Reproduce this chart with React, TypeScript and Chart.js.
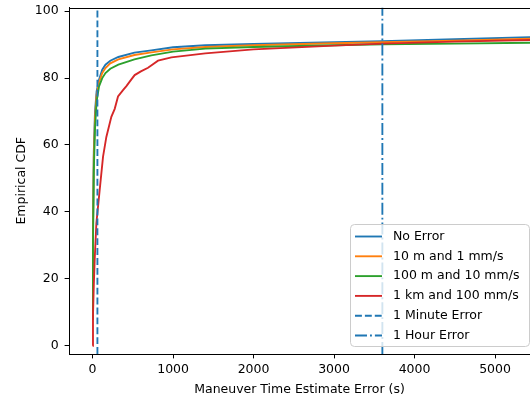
import React, { useEffect, useRef } from "react";
import { Chart, registerables } from "chart.js";

Chart.register(...registerables);

// ---- data ----
const cdfX = [0, 5, 15, 30, 50, 80, 120, 160, 220, 320, 520, 730, 1000, 1400, 2000, 3000, 3600, 4500, 5500, 6000];
const noErrorY = [8, 35, 58, 70, 76, 79.5, 82.5, 84, 85.2, 86.3, 87.6, 88.3, 89.2, 89.8, 90.2, 90.7, 91.0, 91.6, 92.3, 92.6];
const tenMY = [8, 33, 56, 68, 75, 78.7, 81.5, 83, 84.4, 85.6, 86.9, 87.7, 88.6, 89.3, 89.8, 90.4, 90.7, 91.2, 91.8, 92.1];
const hundredMY = [8, 30, 52, 65, 73, 77.5, 80, 81.5, 82.8, 84, 85.6, 86.8, 87.9, 88.8, 89.3, 89.8, 90.1, 90.3, 90.6, 90.7];

const oneKmX = [0, 5, 15, 26, 47, 88, 130, 171, 233, 275, 316, 378, 420, 482, 523, 600, 689, 813, 979, 1400, 2000, 3000, 3600, 4500, 5500, 6000];
const oneKmY = [0, 9, 18, 25.6, 36.6, 46.5, 56.5, 62.4, 68.4, 70.8, 74.5, 76.4, 77.6, 79.6, 80.9, 82, 83.1, 85.2, 86.2, 87.4, 88.6, 89.7, 90.3, 90.9, 91.4, 91.6];

const seriesLabels = ["No Error", "10 m and 1 mm/s", "100 m and 10 mm/s", "1 km and 100 mm/s", "1 Minute Error", "1 Hour Error"];
const minuteErrorX = 60;
const hourErrorX = 3600;

const xAxisMin = -293;
const xAxisMax = 5434;
const yAxisMin = -2.48;
const yAxisMax = 101.1;
const xTickValues = [0, 1000, 2000, 3000, 4000, 5000];
const yTickValues = [0, 20, 40, 60, 80, 100];

const xTitle = "Maneuver Time Estimate Error (s)";
const yTitle = "Empirical CDF";

// ---- styles ----
const FONT = "'DejaVu Sans', sans-serif";
const FS = 12.5;
const LW = 1.875;
const BLUE = "#1f77b4";
const ORANGE = "#ff7f0e";
const GREEN = "#2ca02c";
const RED = "#d62728";
const DASHED = [6.9, 3];
const DASHDOT = [12, 3, 1.9, 3];

const pts = (xs: number[], ys: number[]) => xs.map((x, i) => ({ x, y: ys[i] }));

const frameAndLegend = {
  id: "frameAndLegend",
  afterDraw(chart: any) {
    const { ctx, chartArea } = chart;
    ctx.save();
    // top spine
    ctx.strokeStyle = "#000";
    ctx.lineWidth = 1;
    ctx.beginPath();
    const ty = Math.round(chartArea.top) + 0.5;
    ctx.moveTo(chartArea.left, ty);
    ctx.lineTo(chart.width, ty);
    ctx.stroke();

    // legend
    const bx = 350.5, by = 224.5, bw = 179, bh = 122, r = 4;
    ctx.beginPath();
    ctx.moveTo(bx + r, by);
    ctx.lineTo(bx + bw - r, by);
    ctx.arcTo(bx + bw, by, bx + bw, by + r, r);
    ctx.lineTo(bx + bw, by + bh - r);
    ctx.arcTo(bx + bw, by + bh, bx + bw - r, by + bh, r);
    ctx.lineTo(bx + r, by + bh);
    ctx.arcTo(bx, by + bh, bx, by + bh - r, r);
    ctx.lineTo(bx, by + r);
    ctx.arcTo(bx, by, bx + r, by, r);
    ctx.closePath();
    ctx.fillStyle = "rgba(255,255,255,0.8)";
    ctx.fill();
    ctx.strokeStyle = "#cccccc";
    ctx.lineWidth = 1;
    ctx.stroke();

    const ds = chart.data.datasets;
    ctx.font = `${FS}px ${FONT}`;
    ctx.textBaseline = "middle";
    ctx.textAlign = "left";
    for (let i = 0; i < ds.length; i++) {
      const y = 236.5 + i * 19.8;
      ctx.beginPath();
      ctx.setLineDash(ds[i].borderDash || []);
      ctx.strokeStyle = ds[i].borderColor;
      ctx.lineWidth = LW;
      ctx.moveTo(355, y);
      ctx.lineTo(382, y);
      ctx.stroke();
      ctx.setLineDash([]);
      ctx.fillStyle = "#000";
      ctx.fillText(ds[i].label, 393, y);
    }
    ctx.restore();
  },
};

export default function App() {
  const ref = useRef<HTMLCanvasElement>(null);
  useEffect(() => {
    if (!ref.current) return;
    const common = { pointRadius: 0, borderWidth: LW, tension: 0, fill: false };
    const chart = new Chart(ref.current, {
      type: "line",
      data: {
        datasets: [
          { ...common, label: seriesLabels[0], data: pts(cdfX, noErrorY), borderColor: BLUE, order: 6 },
          { ...common, label: seriesLabels[1], data: pts(cdfX, tenMY), borderColor: ORANGE, order: 5 },
          { ...common, label: seriesLabels[2], data: pts(cdfX, hundredMY), borderColor: GREEN, order: 4 },
          { ...common, label: seriesLabels[3], data: pts(oneKmX, oneKmY), borderColor: RED, order: 3 },
          { ...common, label: seriesLabels[4], data: [{ x: minuteErrorX, y: yAxisMin }, { x: minuteErrorX, y: yAxisMax }], borderColor: BLUE, borderDash: DASHED, order: 2 },
          { ...common, label: seriesLabels[5], data: [{ x: hourErrorX, y: yAxisMin }, { x: hourErrorX, y: yAxisMax }], borderColor: BLUE, borderDash: DASHDOT, order: 1 },
        ] as any,
      },
      options: {
        animation: false,
        responsive: false,
        maintainAspectRatio: false,
        parsing: false as any,
        layout: { padding: { top: 7.5, left: 0, right: 0, bottom: 0 } },
        plugins: { legend: { display: false }, tooltip: { enabled: false } },
        scales: {
          x: {
            type: "linear",
            min: xAxisMin,
            max: xAxisMax,
            afterBuildTicks: (s: any) => { s.ticks = xTickValues.map((v) => ({ value: v })); },
            afterFit: (s: any) => { s.height = 47; s.paddingLeft = 0; s.paddingRight = 0; },
            grid: { drawOnChartArea: false, drawTicks: true, tickLength: 4.4, tickColor: "#000", tickWidth: 1 },
            border: { display: true, color: "#000", width: 1 },
            ticks: { autoSkip: false, maxRotation: 0, color: "#000", font: { family: FONT, size: FS }, padding: 3.5, callback: (v: any) => String(v) },
            title: { display: true, text: xTitle, color: "#000", font: { family: FONT, size: FS }, padding: { top: 0, bottom: 4 } },
          },
          y: {
            type: "linear",
            min: yAxisMin,
            max: yAxisMax,
            afterBuildTicks: (s: any) => { s.ticks = yTickValues.map((v) => ({ value: v })); },
            afterFit: (s: any) => { s.width = 69; s.paddingTop = 0; s.paddingBottom = 0; },
            grid: { drawOnChartArea: false, drawTicks: true, tickLength: 4.4, tickColor: "#000", tickWidth: 1 },
            border: { display: true, color: "#000", width: 1 },
            ticks: { autoSkip: false, color: "#000", font: { family: FONT, size: FS }, padding: 6, callback: (v: any) => String(v) },
            title: { display: true, text: yTitle, color: "#000", font: { family: FONT, size: FS }, padding: { top: 14.2, bottom: 0 } },
          },
        },
      } as any,
      plugins: [frameAndLegend],
    });
    return () => chart.destroy();
  }, []);
  return (
    <div style={{ position: "fixed", left: 0, top: 0, width: 530, height: 401, background: "#fff", overflow: "hidden" }}>
      <canvas ref={ref} width={530} height={401} style={{ width: 530, height: 401, display: "block" }} />
    </div>
  );
}
